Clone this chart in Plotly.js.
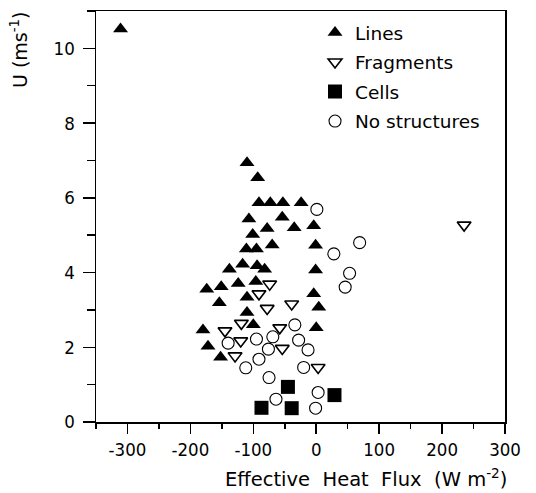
<!DOCTYPE html>
<html>
<head>
<meta charset="utf-8">
<script src="https://cdn.plot.ly/plotly-3.0.1.min.js"></script>
<style>html,body{margin:0;padding:0;background:#fff;}#chart{width:536px;height:493px;}</style>
</head>
<body>
<div id="chart"></div>
<script>
// Lines (filled up-triangles)
const linesX = [-311, -110, -93, -91, -73, -53, -24, -107, -54, -78, -35, -4, -101, -111, -95, -70, -1,
  -138, -117, -94, -82, -1, -174, -151, -124, -96, -4, -154, -110, 4, -110, -180, -100, 0, -172, -152];
const linesY = [10.52, 6.94, 6.54, 5.87, 5.87, 5.87, 5.87, 5.43, 5.48, 5.18, 5.20, 5.25, 5.02, 4.63, 4.63, 4.74, 4.73,
  4.09, 4.22, 4.18, 4.09, 4.07, 3.55, 3.62, 3.71, 3.76, 3.43, 3.19, 3.34, 3.07, 2.93, 2.46, 2.60, 2.52, 2.03, 1.73];
// Fragments (open down-triangles)
const fragX = [-74, -91, -78, -39, -119, -58, -145, -120, -54, -129, 3, 235];
const fragY = [3.69, 3.43, 3.04, 3.16, 2.64, 2.52, 2.44, 2.17, 1.97, 1.77, 1.46, 5.27];
// Cells (filled squares)
const cellsX = [-45, -87, -39, 29];
const cellsY = [0.94, 0.38, 0.37, 0.72];
// No structures (open circles)
const noneX = [-34, -95, -69, -140, -28, -76, -13, -91, -112, -20, -75, 3, -64, -1, 1, 69, 28, 53, 46];
const noneY = [2.60, 2.22, 2.28, 2.11, 2.19, 1.95, 1.93, 1.68, 1.45, 1.46, 1.19, 0.79, 0.61, 0.37, 5.69, 4.80, 4.50, 3.98, 3.61];

const xTickVals = [-300, -200, -100, 0, 100, 200, 300];
const xTickText = ['-300', '-200', '-100', '0', '100', '200', '300'];
const yTickVals = [0, 2, 4, 6, 8, 10];

const FONT = 'DejaVu Sans, Liberation Sans, sans-serif';
const TICKFONT = 'Liberation Sans Narrow, DejaVu Sans Condensed, DejaVu Sans, sans-serif';
const ink = '#000';

const traces = [
  {x: linesX, y: linesY, name: 'Lines', legendgroup: 'a', type: 'scatter', mode: 'markers',
   marker: {symbol: 'triangle-up', size: 13, color: ink, line: {width: 0}}},
  {x: fragX, y: fragY, name: 'Fragments', legendgroup: 'b', type: 'scatter', mode: 'markers',
   marker: {symbol: 'triangle-down-open', size: 12, color: ink, line: {width: 1.6, color: ink}}},
  {x: cellsX, y: cellsY, name: 'Cells', legendgroup: 'c', type: 'scatter', mode: 'markers',
   marker: {symbol: 'square', size: 14, color: ink, line: {width: 0}}},
  {x: noneX, y: noneY, name: 'No structures', legendgroup: 'd', type: 'scatter', mode: 'markers',
   marker: {symbol: 'circle-open', size: 12, color: ink, line: {width: 1.1, color: ink}}}
];

const layout = {
  width: 536, height: 493,
  margin: {l: 96, r: 31, t: 11, b: 71},
  paper_bgcolor: '#fff', plot_bgcolor: '#fff',
  font: {family: FONT, size: 17, color: ink},
  showlegend: true,
  legend: {x: 0.5355, y: 0.993, xanchor: 'left', yanchor: 'top', bgcolor: 'rgba(0,0,0,0)',
           font: {family: FONT, size: 18.5, color: ink}, tracegroupgap: 2.5},
  xaxis: {
    range: [-350, 300], showgrid: false, zeroline: false,
    showline: true, linecolor: ink, linewidth: 1.5, mirror: true,
    tickmode: 'array', tickvals: xTickVals, ticktext: xTickText,
    ticks: 'outside', ticklen: 10, tickwidth: 1.5, tickcolor: ink, ticklabelstandoff: 0,
    tickfont: {family: TICKFONT, size: 18.5, color: ink},
    minor: {dtick: 50, tick0: 0, ticks: 'outside', ticklen: 5, tickwidth: 1.5, tickcolor: ink, showgrid: false}
  },
  yaxis: {
    range: [0, 11], showgrid: false, zeroline: false,
    showline: true, linecolor: ink, linewidth: 1.5, mirror: true,
    tickmode: 'array', tickvals: yTickVals,
    ticks: 'outside', ticklen: 12, tickwidth: 1.5, tickcolor: ink, ticklabelstandoff: 4,
    tickfont: {family: TICKFONT, size: 18.5, color: ink},
    minor: {dtick: 1, tick0: 0, ticks: 'outside', ticklen: 8, tickwidth: 1.5, tickcolor: ink, showgrid: false}
  },
  annotations: [
    {text: 'Effective  Heat  Flux  (W m<sup>-2</sup>)', xref: 'paper', yref: 'paper',
     x: (366 - 96) / 409, y: -(478 - 422) / 411, xanchor: 'center', yanchor: 'middle', showarrow: false,
     font: {family: FONT, size: 19.5, color: ink}},
    {text: 'U (ms<sup>-1</sup>)', xref: 'paper', yref: 'paper', textangle: -90,
     x: -(96 - 19) / 409, y: (422 - 50) / 411, xanchor: 'center', yanchor: 'middle', showarrow: false,
     font: {family: FONT, size: 19, color: ink}}
  ]
};

Plotly.newPlot('chart', traces, layout, {displayModeBar: false, staticPlot: true});
</script>
</body>
</html>
